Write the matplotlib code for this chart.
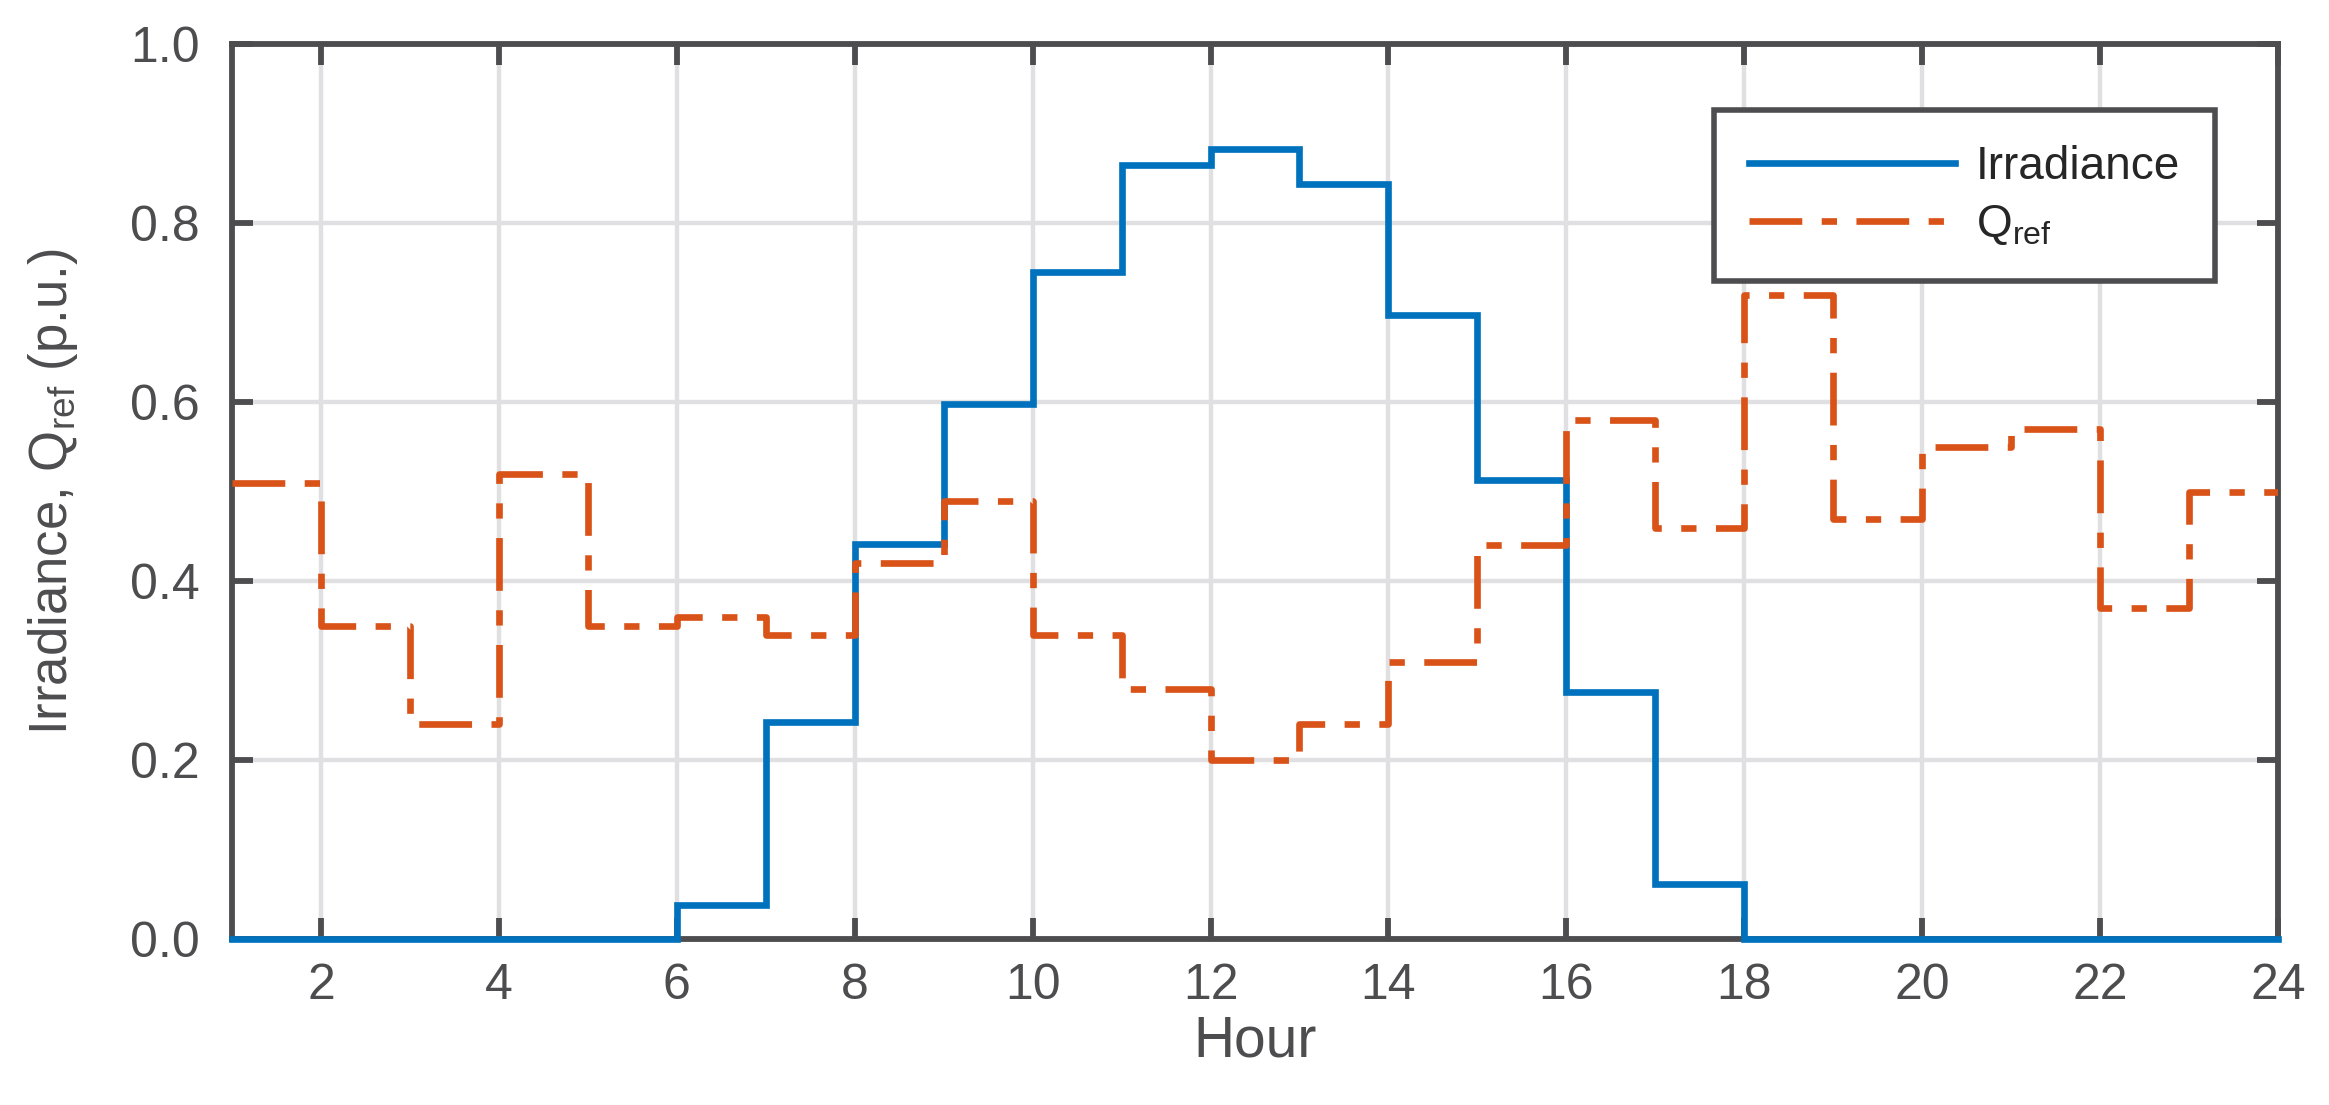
import numpy as np
import matplotlib
matplotlib.use("Agg")
from matplotlib import pyplot as plt

# data: hourly values, drawn as stairs (value at h holds until h+1)
hours = np.arange(1, 25)
irradiance = [0, 0, 0, 0, 0, 0.038, 0.243, 0.442, 0.598, 0.745, 0.865, 0.883,
              0.844, 0.698, 0.513, 0.276, 0.062, 0, 0, 0, 0, 0, 0, 0]
q_ref = [0.51, 0.35, 0.24, 0.52, 0.35, 0.36, 0.34, 0.42, 0.49, 0.34, 0.28, 0.20,
         0.24, 0.31, 0.44, 0.58, 0.46, 0.72, 0.47, 0.55, 0.57, 0.37, 0.50, 0.50]
xticks = np.arange(2, 25, 2)
yticks = np.arange(0, 1.01, 0.2)

# matlab-ish look
dark = '#4d4d4f'
plt.rcParams['font.family'] = ['Liberation Sans', 'DejaVu Sans']
plt.rcParams['mathtext.fontset'] = 'custom'
plt.rcParams['mathtext.rm'] = 'Liberation Sans'
plt.rcParams['mathtext.it'] = 'Liberation Sans'
plt.rcParams['lines.scale_dashes'] = False

fig = plt.figure(figsize=(23.29, 11.05), dpi=100)
ax = fig.add_axes([0.0996, 0.150, 0.8785, 0.810])

ax.step(hours, irradiance, where='post', color='#0072BD', lw=4.8,
        label='Irradiance', zorder=3, clip_on=False, solid_joinstyle='miter')
ax.step(hours, q_ref, where='post', color='#D95319', lw=4.8,
        linestyle=(0, (38, 14, 11, 14)), label=r'Q$_{\mathrm{ref}}$', zorder=3)

ax.set_xlim(1, 24)
ax.set_ylim(0, 1)
ax.set_xticks(xticks)
ax.set_yticks(yticks)
ax.set_yticklabels(['%.1f' % v for v in yticks])

ax.grid(True, color='#e0e0e2', lw=3.2, zorder=0)
ax.set_axisbelow(True)
for s in ax.spines.values():
    s.set_color(dark)
    s.set_linewidth(4.2)
ax.tick_params(direction='in', length=15, width=4.2, color=dark,
               top=True, right=True, labelsize=36, labelcolor=dark)
ax.tick_params(axis='x', pad=17)
ax.tick_params(axis='y', pad=23)

ax.set_xlabel('Hour', fontsize=41, color=dark, labelpad=4)
ax.set_ylabel(r'Irradiance, Q$_{\mathrm{ref}}$ (p.u.)', fontsize=38, color=dark, labelpad=36)

leg = ax.legend(loc='upper right', bbox_to_anchor=(0.969, 0.926), fontsize=33,
                handlelength=4.5, handletextpad=0.46, borderpad=0.75,
                labelspacing=0.3, fancybox=False, framealpha=1, borderaxespad=0)
leg.get_frame().set_edgecolor(dark)
leg.get_frame().set_linewidth(4.0)
for t in leg.get_texts():
    t.set_color('#262626')

plt.savefig('out.png', dpi=100)
